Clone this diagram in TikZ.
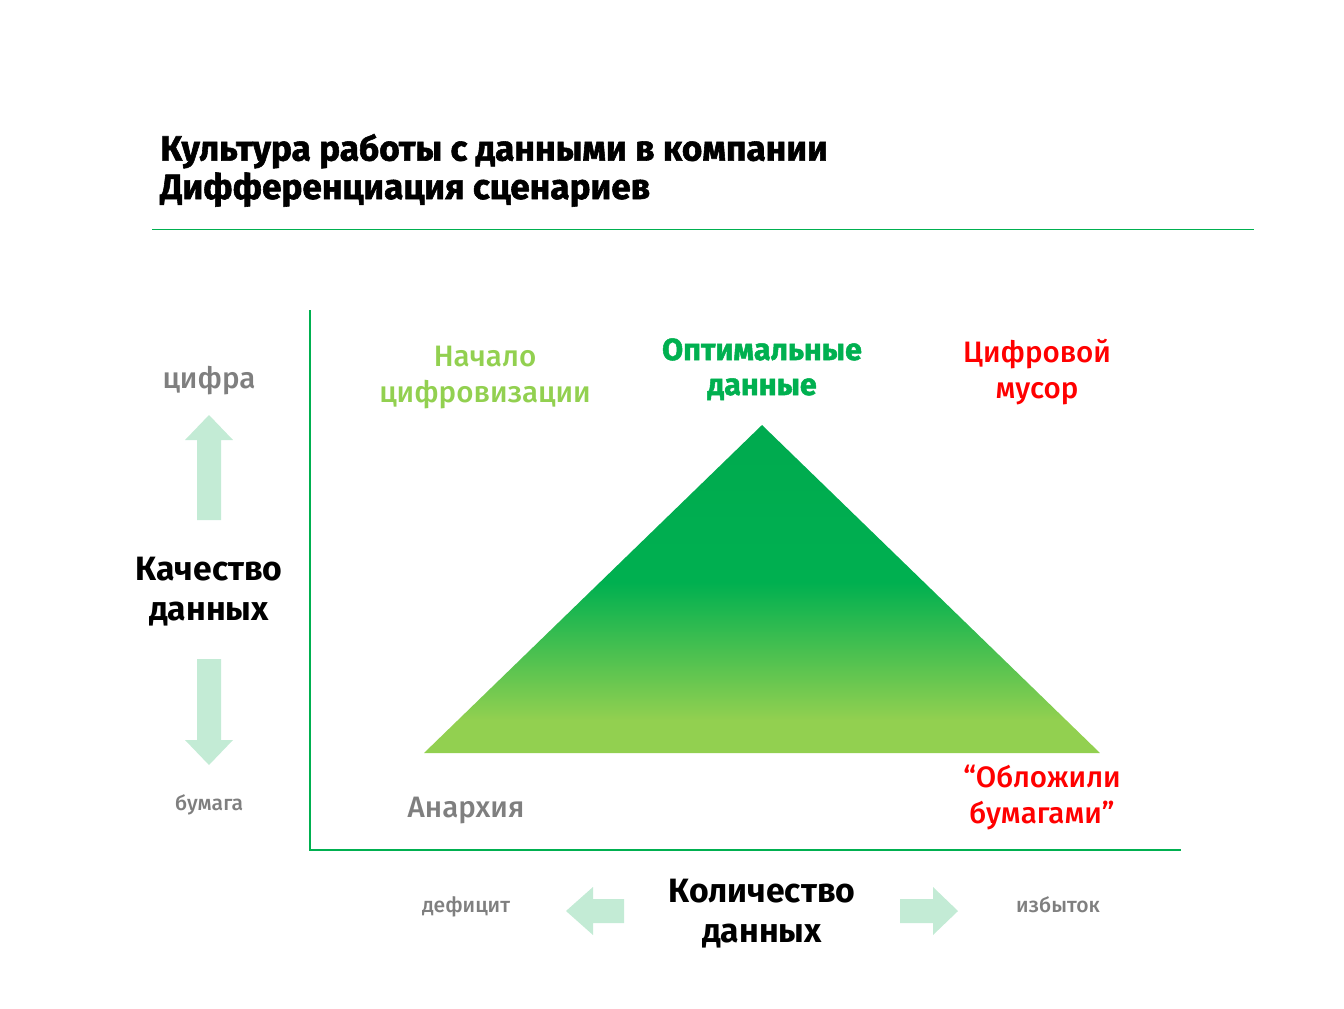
\documentclass[tikz,border=0pt]{standalone}
\usepackage{fontspec}
\setmainfont{Fira Sans}
\newfontfamily\medfont{Fira Sans Medium}
\newfontfamily\heavyfont{Fira Sans}[BoldFeatures={FakeBold=1.6}]
\definecolor{axisgreen}{HTML}{00B050}
\definecolor{limegreen}{HTML}{92D050}
\definecolor{topgreen}{HTML}{00AA4F}
\definecolor{palegreen}{HTML}{C3EBD5}
\definecolor{labelgray}{HTML}{7F7F7F}
\definecolor{alarmred}{HTML}{FF0000}
\pgfdeclareverticalshading{pyramid}{100bp}{color(0bp)=(limegreen); color(30bp)=(limegreen);
  color(51bp)=(axisgreen); color(75bp)=(topgreen); color(100bp)=(topgreen)}
\tikzset{
  titletext/.style={anchor=base west, align=left, inner sep=0pt,
    font=\heavyfont\bfseries\fontsize{25}{27.3}\selectfont},
  axistext/.style={anchor=base, align=center, inner sep=0pt,
    font=\bfseries\fontsize{24}{28.4}\selectfont},
  zonetext/.style={anchor=base, align=center, inner sep=0pt,
    font=\medfont\fontsize{21}{25.6}\selectfont},
  hinttext/.style={anchor=base, inner sep=0pt, text=labelgray,
    font=\medfont\fontsize{15}{17}\selectfont},
  hintarrow/.style={fill=palegreen}
}
\begin{document}
\begin{tikzpicture}[x=0.25mm, y=-0.25mm]
  \useasboundingbox (0,0) rectangle (1344,1008);
  % heading (multi-line nodes sit on their last baseline)
  \node[titletext] (title) at (160,199)
    {Культура работы с данными в компании\\Дифференциация сценариев};
  \draw[axisgreen, line width=0.5pt] (152,229) -- (1254,229);
  % axes
  \coordinate (origin) at (310,850);
  \coordinate (ytop) at (310,310);
  \coordinate (xend) at (1181,850);
  \draw[axisgreen, line width=1pt] (ytop) -- (origin) -- (xend);
  % triangle
  \coordinate (apex) at (762,425);
  \coordinate (baseleft) at (424,753);
  \coordinate (baseright) at (1100,753);
  \shade[shading=pyramid] (apex) -- (baseright) -- (baseleft) -- cycle;
  % vertical axis
  \node[zonetext, text=labelgray] (digital) at (209,388) {цифра};
  \fill[hintarrow] (197,520) -- (197,440) -- (185,440) -- (209,415)
    -- (233,440) -- (221,440) -- (221,520) -- cycle;
  \node[axistext] (quality) at (209,620) {Качество\\данных};
  \fill[hintarrow] (197,659) -- (197,740) -- (185,740) -- (209,765)
    -- (233,740) -- (221,740) -- (221,659) -- cycle;
  \node[hinttext] (paper) at (209,810) {бумага};
  % horizontal axis
  \node[hinttext] (deficit) at (466,912) {дефицит};
  \fill[hintarrow] (624,899) -- (593,899) -- (593,887) -- (566,911)
    -- (593,935) -- (593,923) -- (624,923) -- cycle;
  \node[axistext] (quantity) at (762,942) {Количество\\данных};
  \fill[hintarrow] (900,899) -- (933,899) -- (933,887) -- (958,911)
    -- (933,935) -- (933,923) -- (900,923) -- cycle;
  \node[hinttext] (excess) at (1058,912) {избыток};
  % scenarios
  \node[zonetext, text=limegreen] (start) at (485,402) {Начало\\цифровизации};
  \node[zonetext, text=axisgreen, font=\heavyfont\bfseries\fontsize{21.7}{24.9}\selectfont]
    (optimum) at (762,395) {Оптимальные\\данные};
  \node[zonetext, text=alarmred] (garbage) at (1037,398) {Цифровой\\мусор};
  \node[zonetext, text=labelgray] (anarchy) at (466,817) {Анархия};
  \node[zonetext, text=alarmred] (papers) at (1042,823) {“Обложили\\бумагами”};
\end{tikzpicture}
\end{document}
